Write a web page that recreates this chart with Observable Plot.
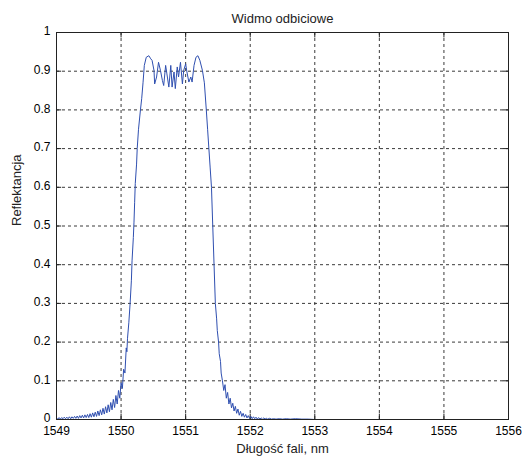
<!DOCTYPE html>
<html>
<head>
<meta charset="utf-8">
<script src="https://cdn.jsdelivr.net/npm/d3@7"></script>
<script src="https://cdn.jsdelivr.net/npm/@observablehq/plot@0.6"></script>
<style>
  html, body { margin: 0; padding: 0; background: #ffffff; }
  svg { font-family: "Liberation Sans", Arial, sans-serif; }
</style>
</head>
<body>
<div id="chart"></div>
<script>
const title = "Widmo odbiciowe";
const xLabel = "Długość fali, nm";
const yLabel = "Reflektancja";
const xTicks = [1549, 1550, 1551, 1552, 1553, 1554, 1555, 1556];
const yTicks = [0, 0.1, 0.2, 0.3, 0.4, 0.5, 0.6, 0.7, 0.8, 0.9, 1];

// [wavelength nm, reflectance]
const tailLeft = [
  [1549.00, 0.004], [1549.02, 0.001], [1549.04, 0.005], [1549.06, 0.001], [1549.08, 0.005],
  [1549.10, 0.002], [1549.12, 0.006], [1549.14, 0.002], [1549.16, 0.006], [1549.18, 0.002],
  [1549.20, 0.007], [1549.22, 0.002], [1549.24, 0.007], [1549.26, 0.003], [1549.28, 0.008],
  [1549.30, 0.003], [1549.32, 0.009], [1549.34, 0.003], [1549.36, 0.010], [1549.38, 0.004],
  [1549.40, 0.011], [1549.42, 0.004], [1549.44, 0.012], [1549.46, 0.005], [1549.48, 0.013],
  [1549.50, 0.005], [1549.52, 0.015], [1549.54, 0.006], [1549.56, 0.017], [1549.58, 0.007],
  [1549.60, 0.019], [1549.62, 0.008], [1549.64, 0.022], [1549.66, 0.010], [1549.68, 0.025],
  [1549.70, 0.012], [1549.72, 0.029], [1549.74, 0.014], [1549.76, 0.033], [1549.78, 0.017],
  [1549.80, 0.038], [1549.82, 0.020], [1549.84, 0.044], [1549.86, 0.025], [1549.88, 0.052],
  [1549.90, 0.031], [1549.92, 0.062], [1549.94, 0.040], [1549.96, 0.075], [1549.98, 0.055],
  [1550.00, 0.095], [1550.02, 0.080], [1550.04, 0.130], [1550.06, 0.120], [1550.08, 0.185],
  [1550.09, 0.175]
];
const edgeLeft = [
  [1550.10, 0.210], [1550.12, 0.250], [1550.14, 0.300], [1550.16, 0.360], [1550.17, 0.410],
  [1550.19, 0.470], [1550.20, 0.510], [1550.21, 0.560], [1550.22, 0.610], [1550.24, 0.660],
  [1550.25, 0.700], [1550.27, 0.750], [1550.30, 0.800], [1550.32, 0.830], [1550.34, 0.870],
  [1550.36, 0.915]
];
const topBand = [
  [1550.39, 0.936], [1550.43, 0.940], [1550.46, 0.932], [1550.48, 0.928], [1550.51, 0.902],
  [1550.52, 0.867], [1550.55, 0.885], [1550.58, 0.923], [1550.61, 0.902], [1550.64, 0.876],
  [1550.66, 0.863], [1550.69, 0.915], [1550.71, 0.893], [1550.74, 0.859], [1550.77, 0.915],
  [1550.79, 0.859], [1550.82, 0.898], [1550.84, 0.855], [1550.87, 0.911], [1550.89, 0.885],
  [1550.92, 0.923], [1550.95, 0.867], [1550.97, 0.902], [1551.00, 0.919], [1551.02, 0.898],
  [1551.05, 0.872], [1551.08, 0.885], [1551.10, 0.872], [1551.13, 0.915], [1551.16, 0.936],
  [1551.19, 0.940], [1551.22, 0.928], [1551.26, 0.902]
];
const edgeRight = [
  [1551.29, 0.870], [1551.32, 0.800], [1551.34, 0.750], [1551.36, 0.700], [1551.38, 0.650],
  [1551.40, 0.600], [1551.42, 0.500], [1551.44, 0.400], [1551.46, 0.300], [1551.48, 0.260],
  [1551.49, 0.230], [1551.51, 0.200], [1551.52, 0.170], [1551.54, 0.150], [1551.55, 0.120],
  [1551.57, 0.100]
];
const tailRight = [
  [1551.59, 0.075], [1551.61, 0.090], [1551.63, 0.055], [1551.65, 0.070], [1551.67, 0.040],
  [1551.69, 0.055], [1551.71, 0.030], [1551.73, 0.042], [1551.75, 0.022], [1551.77, 0.034],
  [1551.79, 0.016], [1551.81, 0.027], [1551.83, 0.011], [1551.85, 0.021], [1551.87, 0.008],
  [1551.89, 0.016], [1551.91, 0.006], [1551.93, 0.013], [1551.95, 0.004], [1551.97, 0.010],
  [1551.99, 0.003], [1552.01, 0.008], [1552.03, 0.002], [1552.05, 0.007], [1552.07, 0.002],
  [1552.09, 0.006], [1552.11, 0.001], [1552.13, 0.005], [1552.15, 0.001], [1552.17, 0.004],
  [1552.19, 0.001], [1552.21, 0.004], [1552.23, 0.001], [1552.25, 0.003], [1552.27, 0.001],
  [1552.30, 0.003], [1552.33, 0.001], [1552.36, 0.002], [1552.40, 0.001], [1552.45, 0.002],
  [1552.50, 0.001], [1552.56, 0.002], [1552.62, 0.001], [1552.70, 0.002], [1552.80, 0.001],
  [1552.90, 0.001], [1553.00, 0.000], [1554.00, 0.000], [1555.00, 0.000], [1556.00, 0.000]
];

const data = [...tailLeft, ...edgeLeft, ...topBand, ...edgeRight, ...tailRight]
  .map(([w, r]) => ({w, r}));
const gridColor = "#3a3a3a";

const chart = Plot.plot({
  width: 525,
  height: 461,
  marginTop: 32,
  marginBottom: 42,
  marginLeft: 56,
  marginRight: 17,
  style: {background: "#ffffff", fontFamily: "Liberation Sans, Arial, sans-serif", fontSize: "12px", color: "#000"},
  x: {domain: [1549, 1556]},
  y: {domain: [0, 1]},
  marks: [
    Plot.gridX(xTicks, {stroke: gridColor, strokeOpacity: 1, strokeDasharray: "3,3"}),
    Plot.gridY(yTicks, {stroke: gridColor, strokeOpacity: 1, strokeDasharray: "3,3"}),
    Plot.ruleX(xTicks, {y1: 0, y2: 0.014, stroke: "#222"}),
    Plot.ruleX(xTicks, {y1: 0.986, y2: 1, stroke: "#222"}),
    Plot.ruleY(yTicks, {x1: 1549, x2: 1549.08, stroke: "#222"}),
    Plot.ruleY(yTicks, {x1: 1555.92, x2: 1556, stroke: "#222"}),
    Plot.line(data, {x: "w", y: "r", stroke: "#2f4fb0", strokeWidth: 1}),
    Plot.frame({stroke: "#222", strokeWidth: 1}),
    Plot.axisX(xTicks, {tickSize: 0, tickPadding: 7, label: null, fontSize: 12, tickFormat: d => String(d)}),
    Plot.axisY(yTicks, {tickSize: 0, tickPadding: 6, label: null, fontSize: 12, dy: -1, tickFormat: d => String(d)}),
    Plot.text([title], {frameAnchor: "top", dy: -19, fontSize: 13, fill: "#222"}),
    Plot.text([xLabel], {frameAnchor: "bottom", dy: 33, fontSize: 13, fill: "#222"}),
    Plot.text([yLabel], {frameAnchor: "left", dx: -40, rotate: -90, fontSize: 13, fill: "#222"})
  ]
});
document.getElementById("chart").appendChild(chart);
</script>
</body>
</html>
